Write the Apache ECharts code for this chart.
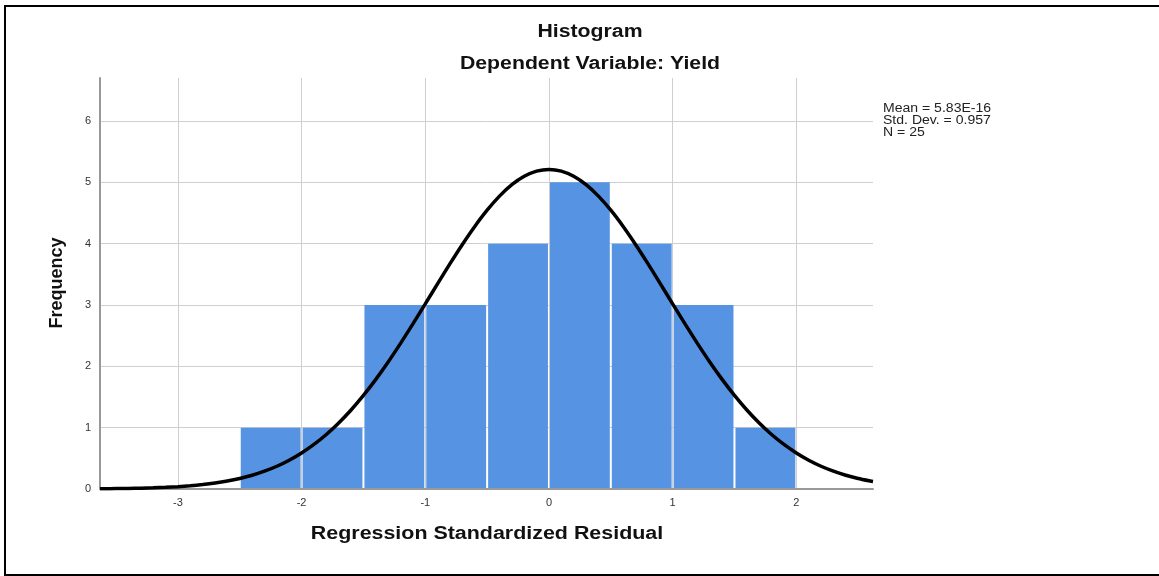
<!DOCTYPE html>
<html>
<head>
<meta charset="utf-8">
<script src="https://cdn.jsdelivr.net/npm/echarts@6/dist/echarts.min.js"></script>
<style>
html,body{margin:0;padding:0;background:#fff;}
#hist_chart{width:1159px;height:576px;}
</style>
</head>
<body>
<div id="hist_chart"></div>
<script>
// histogram bins (lower / upper edge) and counts
var binLow = [-2.5, -2, -1.5, -1, -0.5, 0, 0.5, 1, 1.5];
var binHigh = [-2, -1.5, -1, -0.5, 0, 0.5, 1, 1.5, 2];
var freq = [1, 1, 3, 3, 4, 5, 4, 3, 1];
// normal curve
var curveX = [-3.63, -3.6, -3.5, -3.4, -3.3, -3.2, -3.1, -3, -2.9, -2.8, -2.7, -2.6, -2.5, -2.4, -2.3, -2.2, -2.1,
              -2, -1.9, -1.8, -1.7, -1.6, -1.5, -1.4, -1.3, -1.2, -1.1, -1, -0.9, -0.8, -0.7, -0.6, -0.5, -0.4,
              -0.3, -0.2, -0.1, 0, 0.1, 0.2, 0.3, 0.4, 0.5, 0.6, 0.7, 0.8, 0.9, 1, 1.1, 1.2, 1.3, 1.4, 1.5, 1.6,
              1.7, 1.8, 1.9, 2, 2.1, 2.2, 2.3, 2.4, 2.5, 2.6, 2.62];
var curveY = [0.004, 0.004, 0.007, 0.009, 0.014, 0.019, 0.027, 0.038, 0.053, 0.072, 0.097, 0.13, 0.172, 0.224,
              0.29, 0.371, 0.469, 0.587, 0.726, 0.888, 1.076, 1.288, 1.525, 1.787, 2.071, 2.374, 2.691, 3.018,
              3.348, 3.674, 3.987, 4.28, 4.545, 4.774, 4.96, 5.097, 5.182, 5.21, 5.182, 5.097, 4.96, 4.774,
              4.545, 4.28, 3.987, 3.674, 3.348, 3.018, 2.691, 2.374, 2.071, 1.787, 1.525, 1.288, 1.076, 0.888,
              0.726, 0.587, 0.469, 0.371, 0.29, 0.224, 0.172, 0.13, 0.123];
var xTicks = [-3, -2, -1, 0, 1, 2];
var statLines = ['Mean = 5.83E-16', 'Std. Dev. = 0.957', 'N = 25'];

var histChart = echarts.init(document.getElementById('hist_chart'));

var barData = binLow.map(function (v, i) { return [v, binHigh[i], freq[i]]; });
var lineData = curveX.map(function (v, i) { return [v, curveY[i]]; });

var font = '"Liberation Sans", Arial, sans-serif';

var option = {
    animation: false,
    backgroundColor: '#fff',
    grid: {left: 100, top: 78, right: 286, bottom: 87},
    xAxis: {
        type: 'value',
        min: -3.63,
        max: 2.62,
        axisLine: {show: true, onZero: false, lineStyle: {color: '#999', width: 2}},
        axisTick: {show: false, customValues: xTicks},
        axisLabel: {customValues: xTicks, color: '#333', fontSize: 11, fontFamily: font, margin: 8},
        splitLine: {show: true, lineStyle: {color: '#cfcfcf', width: 1}}
    },
    yAxis: {
        type: 'value',
        min: 0,
        max: 6.7,
        interval: 1,
        axisLine: {show: true, onZero: false, lineStyle: {color: '#999', width: 2}},
        axisTick: {show: false},
        axisLabel: {color: '#333', fontSize: 11, fontFamily: font, margin: 9, showMaxLabel: false},
        splitLine: {show: true, showMinLine: false, showMaxLine: false, lineStyle: {color: '#cfcfcf', width: 1}}
    },
    series: [
        {
            type: 'custom',
            renderItem: function (params, api) {
                var p0 = api.coord([api.value(0), api.value(2)]);
                var p1 = api.coord([api.value(1), 0]);
                return {
                    type: 'rect',
                    shape: {x: p0[0] + 1, y: p0[1], width: p1[0] - p0[0] - 2, height: p1[1] - p0[1] - 1},
                    style: {fill: '#5694e3'}
                };
            },
            encode: {x: [0, 1], y: 2},
            data: barData,
            z: 2
        },
        {
            type: 'line',
            data: lineData,
            smooth: 0.2,
            showSymbol: false,
            lineStyle: {color: '#000', width: 3.5},
            z: 3
        }
    ],
    graphic: [
        {type: 'rect', shape: {x: 5, y: 6, width: 1170, height: 569}, style: {fill: 'none', stroke: '#000', lineWidth: 2}, silent: true},
        {type: 'text', x: 590, y: 32, scaleX: 1.18, style: {text: 'Histogram', font: 'bold 18px ' + font, fill: '#111', textAlign: 'center', textVerticalAlign: 'middle'}},
        {type: 'text', x: 590, y: 64, scaleX: 1.18, style: {text: 'Dependent Variable: Yield', font: 'bold 18px ' + font, fill: '#111', textAlign: 'center', textVerticalAlign: 'middle'}},
        {type: 'text', x: 487, y: 534, scaleX: 1.19, style: {text: 'Regression Standardized Residual', font: 'bold 18px ' + font, fill: '#111', textAlign: 'center', textVerticalAlign: 'middle'}},
        {type: 'text', x: 57, y: 283, rotation: Math.PI / 2, style: {text: 'Frequency', font: 'bold 18px ' + font, fill: '#111', textAlign: 'center', textVerticalAlign: 'middle'}},
        {type: 'text', x: 883, y: 103, scaleX: 1.17, style: {text: statLines.join('\n'), font: '12px ' + font, lineHeight: 12, fill: '#222', textAlign: 'left', textVerticalAlign: 'top'}}
    ]
};

histChart.setOption(option);
window.addEventListener('resize', function () {
    histChart.resize();
});
</script>
</body>
</html>
